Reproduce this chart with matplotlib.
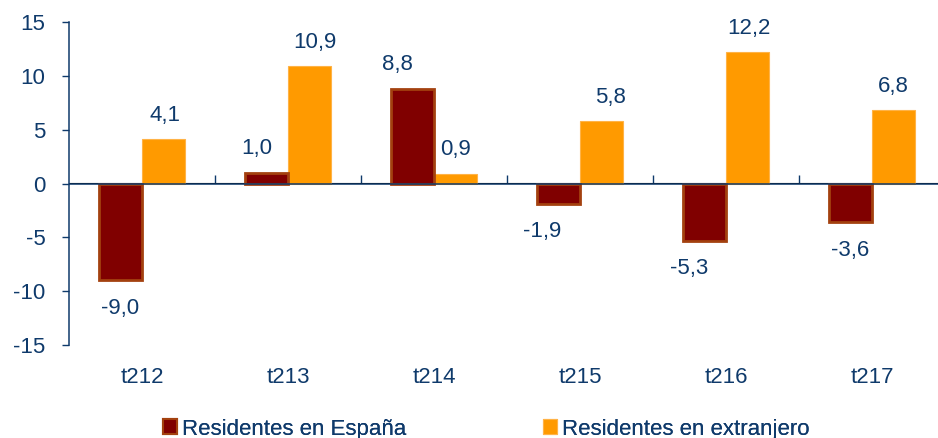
import numpy as np
import matplotlib
matplotlib.use("Agg")
import matplotlib.pyplot as plt
from matplotlib.patches import Patch

plt.rcParams['font.family'] = ['Liberation Sans', 'DejaVu Sans']

# --- data ---
categories = ['t212', 't213', 't214', 't215', 't216', 't217']
espana = [-9.0, 1.0, 8.8, -1.9, -5.3, -3.6]
extranjero = [4.1, 10.9, 0.9, 5.8, 12.2, 6.8]
series_names = ['Residentes en España', 'Residentes en extranjero']

# label nudges in pixels (x only), the original labels were hand placed
espana_dx = [0, -10, -15, -16, -15, 0]
extranjero_dx = [2, 5, 0, 9, 1, 0]

# --- style ---
NAVY = '#0f3a6b'
MAROON = '#800000'
MAROON_EDGE = '#a3410f'
ORANGE = '#ff9a00'
ORANGE_EDGE = '#ffb347'
FS = 16

fig = plt.figure(figsize=(9.38, 4.38), dpi=100)
ax = fig.add_axes([69 / 938, 1 - 345 / 438, 876 / 938, 323 / 438])

x = np.arange(len(categories))
w = 0.295
off = 0.147

b1 = ax.bar(x - off, espana, w, color=MAROON, edgecolor=MAROON_EDGE, linewidth=2, zorder=3)
b2 = ax.bar(x + off, extranjero, w, color=ORANGE, edgecolor=ORANGE_EDGE, linewidth=0.8, zorder=2)

def fmt(v):
    return f"{v:.1f}".replace('.', ',')

for bars, vals, dxs in [(b1, espana, espana_dx), (b2, extranjero, extranjero_dx)]:
    for rect, v, dx in zip(bars, vals, dxs):
        cx = rect.get_x() + rect.get_width() / 2
        dy = 24 if v >= 0 else -28
        ax.annotate(fmt(v), (cx, v), xytext=(dx, dy), textcoords='offset pixels',
                    ha='center', va='center', fontsize=FS, color=NAVY)

ax.set_xlim(-0.5, len(categories) - 0.5)
ax.set_ylim(-15, 15)
ax.set_yticks(np.arange(-15, 16, 5))
ax.set_yticklabels([str(t) for t in range(-15, 16, 5)])

# zero line and spines
for s in ['top', 'right', 'bottom']:
    ax.spines[s].set_visible(False)
ax.spines['left'].set_color(NAVY)
ax.spines['left'].set_linewidth(1.1)
ax.axhline(0, color=NAVY, linewidth=1.1, zorder=4)

ax.tick_params(axis='y', direction='out', length=5, width=1.0, color=NAVY,
               labelcolor=NAVY, labelsize=FS, pad=12)
ax.set_xticks(x)
ax.set_xticklabels(categories)
ax.tick_params(axis='x', length=0, labelcolor=NAVY, labelsize=FS, pad=16)

# category boundary ticks on the zero line
sec = ax.secondary_xaxis(0.5)
sec.set_xticks(np.arange(0.5, len(categories) - 0.5, 1.0))
sec.set_xticklabels([])
sec.spines['bottom'].set_visible(False)
sec.tick_params(axis='x', direction='out', length=6, width=1.0, color=NAVY)

# legend: one entry each, placed separately
h1 = Patch(facecolor=MAROON, edgecolor=MAROON_EDGE, linewidth=1.5)
h2 = Patch(facecolor=ORANGE, edgecolor=ORANGE_EDGE, linewidth=0.8)
for h, name, xpos in [(h1, series_names[0], 163 / 938), (h2, series_names[1], 543 / 938)]:
    leg = fig.legend([h], [name], loc='center left', bbox_to_anchor=(xpos, 1 - 429 / 438),
                     frameon=False, fontsize=FS, handlelength=0.62, handleheight=0.62,
                     handletextpad=0.25, borderpad=0, borderaxespad=0)
    for t in leg.get_texts():
        t.set_color(NAVY)
    fig.add_artist(leg)

fig.savefig('out.png', dpi=100)
